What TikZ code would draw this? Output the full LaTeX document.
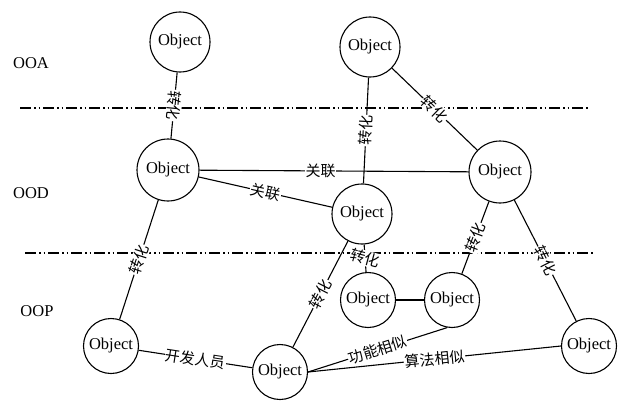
\documentclass[tikz,border=0pt]{standalone}
\usepackage{fontspec}
\setmainfont{Liberation Serif}
\newfontfamily\cjk{Noto Sans CJK SC}
\begin{document}
\begin{tikzpicture}[x=1pt,y=1pt,
  obj/.style={circle,draw,line width=1.1pt,inner sep=0pt,font=\fontsize{16.5}{16.5}\selectfont},
  big/.style={obj,minimum size=62pt},
  mid/.style={obj,minimum size=60pt},
  small/.style={obj,minimum size=55pt},
  edge/.style={line width=1.1pt},
  lab/.style={fill=white,inner sep=0.8pt,font=\cjk\fontsize{15}{15}\selectfont},
  layer/.style={font=\fontsize{16.5}{16.5}\selectfont},
  sep/.style={line width=1.1pt,dash pattern=on 11pt off 3pt on 1.5pt off 3pt on 1.5pt off 3pt}]
\useasboundingbox (0,0) rectangle (618,400);
% separators
\coordinate (s1a) at (20,292);
\coordinate (s1b) at (588,292);
\coordinate (s2a) at (25,147);
\coordinate (s2b) at (593,147);
\draw[sep] (s1a) -- (s1b);
\draw[sep] (s2a) -- (s2b);
% layer labels
\node[layer] (ooa) at (31,337) {OOA};
\node[layer] (ood) at (31,207) {OOD};
\node[layer] (oop) at (37,89) {OOP};
% objects
\node[mid] (A1) at (180,358) {Object};
\node[mid] (A2) at (370,353) {Object};
\node[big] (D1) at (168,230) {Object};
\node[big] (D2) at (500,228) {Object};
\node[mid] (D3) at (362,186) {Object};
\node[small] (P1) at (111,54) {Object};
\node[small] (P2) at (280,28) {Object};
\node[small] (P3) at (368,100) {Object};
\node[small] (P4) at (452,100) {Object};
\node[small] (P5) at (589,54) {Object};
% connectors
\draw[edge] (A1) -- node[lab,sloped,allow upside down] {转化} (D1);
\draw[edge] (A2) -- node[lab,sloped] {转化} (D3);
\draw[edge] (A2) -- node[lab,sloped] {转化} (D2);
\draw[edge] (D1) -- node[lab,pos=0.45] {关联} (D2);
\draw[edge] (D1) -- node[lab,sloped] {关联} (D3);
\draw[edge] (D1) -- node[lab,sloped] {转化} (P1);
\draw[edge] (P1) -- node[lab,sloped] {开发人员} (P2);
\draw[edge] (P2) -- node[lab,sloped] {转化} (D3);
\draw[edge] (D3) -- node[lab,rotate=-15] {转化} (P3);
\draw[edge] (D2) -- node[lab,sloped] {转化} (P4);
\draw[edge] (D2) -- node[lab,sloped] {转化} (P5);
\draw[edge] (P3) -- (P4);
\draw[edge] (P2.east) -- node[lab,sloped] {功能相似} (P4.260);
\draw[edge] (P2.east) -- node[lab,sloped] {算法相似} (P5.west);
\end{tikzpicture}
\end{document}
